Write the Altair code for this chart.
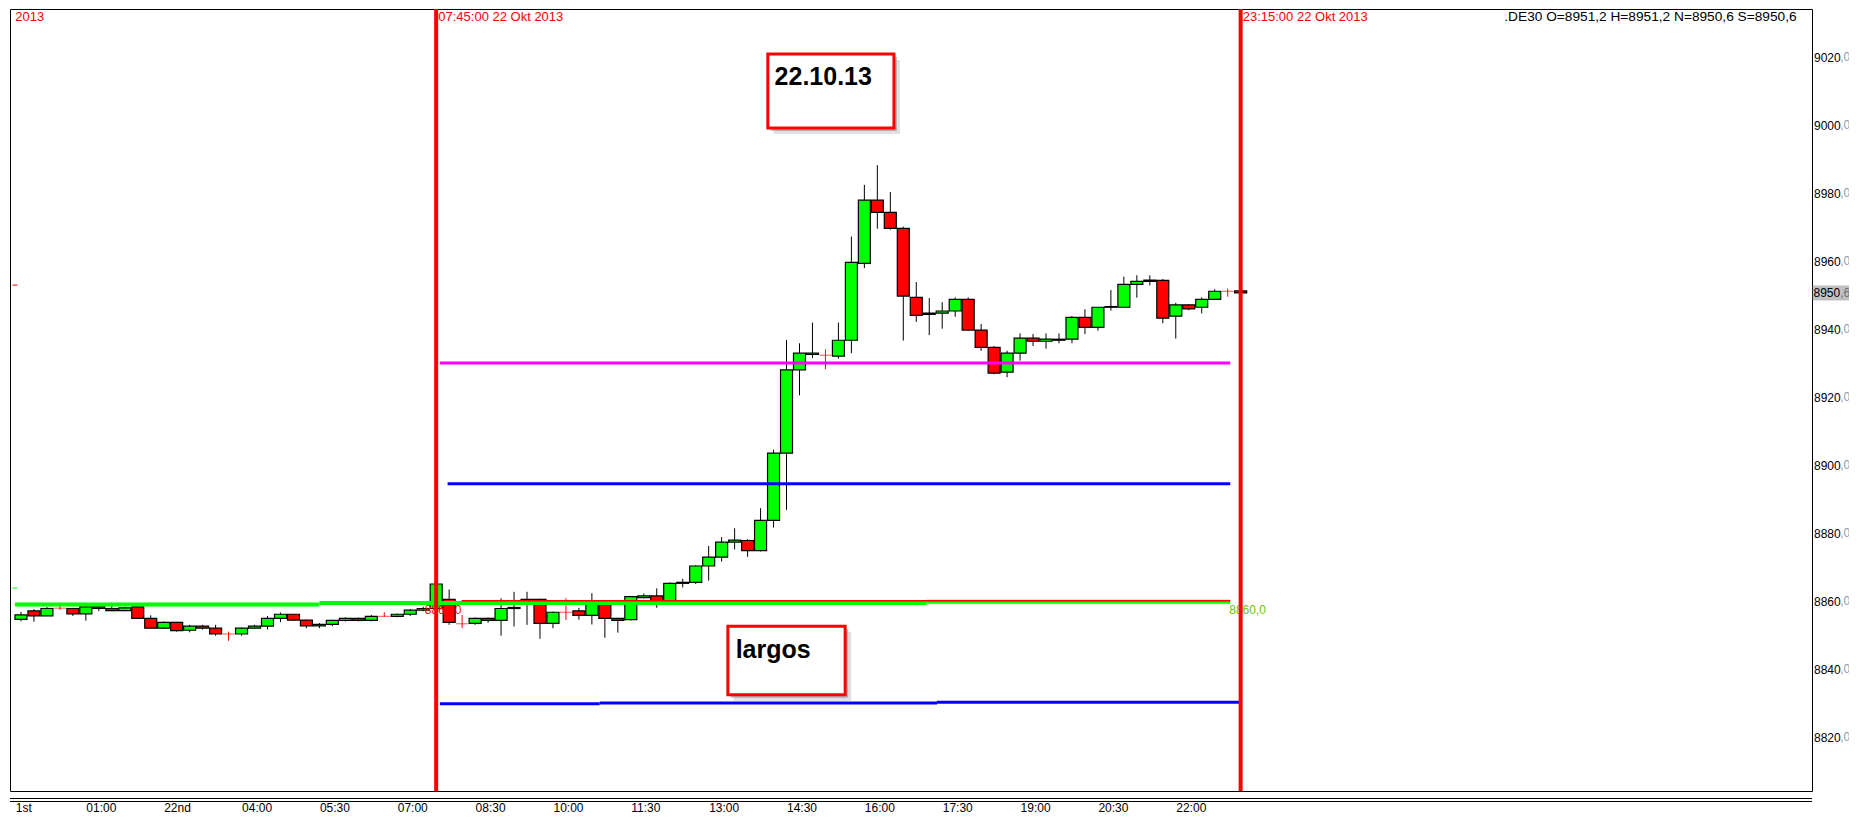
import altair as alt
import pandas as pd

# ---------------- data ----------------
HOURS = [-0.25, 0.0, 0.25, 0.5, 0.75, 1.0, 1.25, 1.5, 1.75, 2.0, 2.25, 2.5, 2.75, 3.0, 3.25, 3.5,
         3.75, 4.0, 4.25, 4.5, 4.75, 5.0, 5.25, 5.5, 5.75, 6.0, 6.25, 6.5, 6.75, 7.0, 7.25, 7.5,
         7.75, 8.0, 8.25, 8.5, 8.75, 9.0, 9.25, 9.5, 9.75, 10.0, 10.25, 10.5, 10.75, 11.0, 11.25, 11.5,
         11.75, 12.0, 12.25, 12.5, 12.75, 13.0, 13.25, 13.5, 13.75, 14.0, 14.25, 14.5, 14.75, 15.0, 15.25, 15.5,
         15.75, 16.0, 16.25, 16.5, 16.75, 17.0, 17.25, 17.5, 17.75, 18.0, 18.25, 18.5, 18.75, 19.0, 19.25, 19.5,
         19.75, 20.0, 20.25, 20.5, 20.75, 21.0, 21.25, 21.5, 21.75, 22.0, 22.25, 22.5, 22.75, 23.0, 23.25]

OPEN = [8854.6, 8857.1, 8855.6, 8857.9, 8857.8, 8856.2, 8858.3, 8857.8, 8857.2, 8858.3, 8854.9, 8852.0, 8853.7, 8851.4, 8852.6, 8852.0,
        8850.3, 8850.3, 8852.0, 8852.6, 8854.9, 8856.1, 8854.4, 8852.7, 8853.1, 8854.3, 8854.9, 8854.3, 8855.5, 8855.5, 8856.1, 8857.3,
        8857.8, 8860.5, 8853.3, 8853.4, 8854.9, 8854.3, 8857.8, 8860.1, 8860.5, 8853.4, 8856.7, 8857.1, 8855.8, 8859.5, 8854.9, 8854.5,
        8861.0, 8861.5, 8859.8, 8865.2, 8865.5, 8870.3, 8872.9, 8877.3, 8877.8, 8874.8, 8883.7, 8903.5, 8928.0, 8932.5, 8932.3, 8932.0,
        8936.7, 8959.3, 8977.9, 8974.3, 8969.6, 8949.3, 8944.7, 8944.7, 8945.3, 8948.7, 8939.7, 8934.6, 8927.3, 8932.9, 8937.3, 8936.4,
        8936.7, 8937.0, 8943.4, 8940.5, 8946.4, 8946.4, 8953.1, 8954.0, 8954.3, 8943.8, 8947.1, 8946.4, 8948.7, 8951.1, 8951.2]
HIGH = [8856.8, 8857.6, 8858.3, 8859.5, 8858.0, 8858.5, 8858.5, 8859.5, 8858.3, 8858.5, 8855.8, 8854.0, 8853.9, 8853.0, 8853.0, 8853.0,
        8851.0, 8852.2, 8853.0, 8855.6, 8856.6, 8856.2, 8854.5, 8853.5, 8854.5, 8855.2, 8855.1, 8855.9, 8856.7, 8856.3, 8857.6, 8858.3,
        8865.2, 8863.4, 8855.9, 8855.2, 8855.1, 8860.8, 8862.7, 8862.7, 8860.7, 8856.9, 8860.8, 8858.0, 8862.3, 8859.7, 8855.0, 8861.5,
        8862.2, 8863.7, 8865.5, 8866.5, 8870.5, 8876.2, 8878.8, 8881.4, 8878.2, 8887.3, 8904.5, 8936.8, 8935.8, 8941.9, 8934.0, 8941.9,
        8967.2, 8982.4, 8988.2, 8980.3, 8970.1, 8953.8, 8949.1, 8947.9, 8949.3, 8949.3, 8941.5, 8935.0, 8933.6, 8938.7, 8938.5, 8938.7,
        8938.7, 8943.8, 8945.8, 8946.4, 8951.5, 8955.4, 8955.8, 8955.8, 8954.7, 8947.7, 8947.3, 8949.3, 8951.7, 8951.9, 8951.2]
LOW = [8854.0, 8853.9, 8855.6, 8857.4, 8855.6, 8854.2, 8857.0, 8857.0, 8857.0, 8854.9, 8852.0, 8851.8, 8851.0, 8850.8, 8851.6, 8849.8,
       8848.3, 8849.8, 8851.9, 8851.6, 8853.8, 8854.2, 8852.0, 8852.0, 8852.6, 8854.0, 8854.0, 8854.0, 8855.4, 8855.2, 8855.6, 8857.0,
       8857.0, 8853.0, 8852.0, 8853.0, 8853.6, 8849.8, 8852.5, 8853.0, 8848.9, 8852.0, 8854.4, 8854.5, 8853.1, 8849.2, 8850.7, 8854.3,
       8860.8, 8858.0, 8859.5, 8864.0, 8865.0, 8866.0, 8871.6, 8875.2, 8873.0, 8874.6, 8881.6, 8886.8, 8920.5, 8931.4, 8928.2, 8931.3,
       8932.9, 8957.9, 8969.5, 8969.2, 8936.6, 8942.1, 8938.2, 8940.1, 8943.6, 8939.5, 8933.6, 8926.7, 8925.8, 8930.7, 8935.0, 8934.2,
       8935.8, 8935.8, 8938.5, 8939.5, 8945.4, 8946.4, 8949.2, 8952.8, 8941.7, 8937.2, 8945.5, 8944.6, 8948.5, 8949.5, 8950.6]
CLOSE = [8855.9, 8855.6, 8857.8, 8857.9, 8856.2, 8858.3, 8857.8, 8857.2, 8858.0, 8854.9, 8852.0, 8853.7, 8851.3, 8852.6, 8852.0, 8850.3,
         8850.3, 8852.0, 8852.6, 8854.9, 8856.1, 8854.4, 8852.7, 8853.1, 8854.3, 8854.9, 8854.3, 8855.5, 8855.5, 8856.1, 8857.3, 8857.8,
         8865.0, 8853.7, 8853.3, 8854.9, 8854.3, 8857.8, 8858.1, 8860.5, 8853.4, 8856.7, 8856.7, 8855.8, 8859.5, 8854.9, 8854.3, 8861.3,
         8861.5, 8859.8, 8865.2, 8865.5, 8870.3, 8872.9, 8877.3, 8877.9, 8874.8, 8883.7, 8903.5, 8928.0, 8932.9, 8932.9, 8932.3, 8936.7,
         8959.6, 8977.9, 8974.3, 8969.6, 8949.7, 8944.0, 8944.3, 8945.3, 8948.7, 8939.7, 8934.6, 8927.0, 8932.9, 8937.3, 8936.4, 8937.0,
         8937.0, 8943.4, 8940.5, 8946.4, 8946.6, 8953.1, 8954.0, 8954.4, 8943.2, 8947.1, 8945.9, 8948.7, 8951.1, 8951.1, 8950.6]

XTICK_VALUES = [-0.36, 1, 2.5, 4, 5.5, 7, 8.5, 10, 11.5, 13, 14.5, 16, 17.5, 19, 20.5, 22]
XTICK_LABELS = ['1st', '01:00', '22nd', '04:00', '05:30', '07:00', '08:30', '10:00', '11:30',
                '13:00', '14:30', '16:00', '17:30', '19:00', '20:30', '22:00']
YTICK_VALUES = [8820, 8840, 8860, 8880, 8900, 8920, 8940, 8960, 8980, 9000, 9020]

# horizontal level lines (segments)
LEVEL_START = [-0.365, 5.5, 17.2, 8.24, 7.82, 7.97, 7.82, 10.9, 17.4]
LEVEL_END = [5.5, 17.2, 23.05, 23.05, 23.05, 23.05, 10.9, 17.4, 23.22]
LEVEL_PRICE = [8859.0, 8859.4, 8859.8, 8860.1, 8930.0, 8894.5, 8829.8, 8830.0, 8830.2]
LEVEL_COLOR = ['#00ff00', '#00ff00', '#00ff00', '#ff0000', '#ff00ff', '#0000ff', '#0000ff', '#0000ff', '#0000ff']
LEVEL_WIDTH = [4, 4, 4, 1.5, 3, 3, 3, 3, 3]

VLINE_TIMES = [7.75, 23.25]

# small markers on the left edge of the price pane
EDGE_MARK_V = [8952.9, 8863.8]
EDGE_MARK_COLOR = ['#ff0000', '#00ff00']

TOP_TEXT = ['2013', '07:45:00 22 Okt 2013', '23:15:00 22 Okt 2013',
            '.DE30 O=8951,2 H=8951,2 N=8950,6 S=8950,6']
TOP_TEXT_T = [-0.36, 7.79, 23.29, 28.33]
TOP_TEXT_COLOR = ['#ff0000', '#ff0000', '#ff0000', '#000000']
TOP_TEXT_SIZE = [13, 13, 13, 13.7]
TOP_TEXT_V = 9031.8

LEVEL_LABEL_TEXT = ['8860,0', '8860,0']
LEVEL_LABEL_T = [7.53, 23.03]
LEVEL_LABEL_V = [8857.3, 8857.3]
LEVEL_LABEL_COLOR = ['#ff0000', '#66c800']

BOX_TEXT = ['22.10.13', 'largos']
BOX_T0 = [14.14, 13.37]
BOX_T1 = [16.57, 15.63]
BOX_V0 = [8999.1, 8832.4]
BOX_V1 = [9020.9, 8852.6]
BOX_TEXT_T = [14.27, 13.52]
BOX_TEXT_V = [9011.8, 8843.3]

LAST_PRICE = 8950.6

# ---------------- chart ----------------
W, H = 1802, 782
X_DOM = [-0.365, 34.162]
Y_DOM = [8804.12, 9034.12]
FONT = 'Liberation Sans'

xs = alt.Scale(domain=X_DOM, nice=False, zero=False)
ys = alt.Scale(domain=Y_DOM, nice=False, zero=False)

expr = "''"
for v, lab in zip(reversed(XTICK_VALUES), reversed(XTICK_LABELS)):
    expr = f"datum.value == {v} ? '{lab}' : ({expr})"

x_axis = alt.Axis(values=XTICK_VALUES, labelExpr=expr, labelAlign='left', labelBaseline='middle',
                  labelPadding=16.5, ticks=False, domain=False, grid=False,
                  labelFlush=False, labelOverlap=False,
                  labelFont=FONT, labelFontSize=12, labelColor='black', title=None)
y_axis = alt.Axis(values=YTICK_VALUES, format='d', orient='right', labelAlign='left',
                  labelBaseline='middle', labelPadding=1.5, ticks=False,
                  domain=False, grid=False, labelFont=FONT, labelFontSize=12,
                  labelColor='black', labelOverlap=False, labelFlush=False, title=None)


def xq(field):
    return alt.X(field, type='quantitative', scale=xs, axis=x_axis)


def yq(field):
    return alt.Y(field, type='quantitative', scale=ys, axis=y_axis)


df = pd.DataFrame({'t': HOURS, 'o': OPEN, 'h': HIGH, 'l': LOW, 'c': CLOSE})
df['kind'] = ['up' if c > o else ('down' if c < o else 'doji') for o, c in zip(df.o, df.c)]
candles = df[df.kind != 'doji']
dojis = df[df.kind == 'doji']

wicks = alt.Chart(candles).mark_rule(color='black', strokeWidth=1).encode(
    x=xq('t'), y=yq('l'), y2='h:Q')
bodies = alt.Chart(candles).mark_bar(size=12, stroke='black', strokeWidth=1.2).encode(
    x=xq('t'), y=yq('o'), y2='c:Q',
    color=alt.Color('kind:N', scale=alt.Scale(domain=['up', 'down'], range=['#00ff00', '#ff0000']), legend=None))
doji_wicks = alt.Chart(dojis).mark_rule(color='#ff0000', strokeWidth=1).encode(
    x=xq('t'), y=yq('l'), y2='h:Q')
doji_ticks = alt.Chart(dojis).mark_tick(color='#ff0000', orient='horizontal', size=12, thickness=1).encode(
    x=xq('t'), y=yq('o'))

lv = pd.DataFrame({'t0': LEVEL_START, 't1': LEVEL_END, 'v': LEVEL_PRICE, 'col': LEVEL_COLOR, 'w': LEVEL_WIDTH})
levels = alt.Chart(lv).mark_rule().encode(
    x=xq('t0'), x2='t1:Q', y=yq('v'),
    color=alt.Color('col:N', scale=None), strokeWidth=alt.StrokeWidth('w:Q', scale=None))

em = pd.DataFrame({'t': [X_DOM[0]] * len(EDGE_MARK_V), 'v': EDGE_MARK_V, 'col': EDGE_MARK_COLOR})
edge_marks = alt.Chart(em).mark_tick(orient='horizontal', size=5, thickness=1.5).encode(
    x=xq('t'), y=yq('v'), color=alt.Color('col:N', scale=None))

ll = pd.DataFrame({'t': LEVEL_LABEL_T, 'v': LEVEL_LABEL_V, 'txt': LEVEL_LABEL_TEXT, 'col': LEVEL_LABEL_COLOR})
level_labels = alt.Chart(ll).mark_text(font=FONT, fontSize=12, align='left', baseline='middle').encode(
    x=xq('t'), y=yq('v'), text='txt:N', color=alt.Color('col:N', scale=None))

vl = pd.DataFrame({'t': VLINE_TIMES})
vlines = alt.Chart(vl).mark_rule(color='#ff0000', strokeWidth=4).encode(x=xq('t'))

tt = pd.DataFrame({'t': TOP_TEXT_T, 'txt': TOP_TEXT, 'col': TOP_TEXT_COLOR, 'fs': TOP_TEXT_SIZE,
                   'v': [TOP_TEXT_V] * len(TOP_TEXT)})
top_texts = alt.Chart(tt).mark_text(font=FONT, align='left', baseline='middle').encode(
    x=xq('t'), y=yq('v'), text='txt:N', color=alt.Color('col:N', scale=None),
    size=alt.Size('fs:Q', scale=None))

bx = pd.DataFrame({'t0': BOX_T0, 't1': BOX_T1, 'v0': BOX_V0, 'v1': BOX_V1,
                   'tt': BOX_TEXT_T, 'tv': BOX_TEXT_V, 'txt': BOX_TEXT})
shadow2 = alt.Chart(bx).mark_rect(color='#bbbbbb', opacity=0.45, xOffset=6, x2Offset=6, yOffset=6, y2Offset=6).encode(
    x=xq('t0'), x2='t1:Q', y=yq('v0'), y2='v1:Q')
shadow1 = alt.Chart(bx).mark_rect(color='#888888', opacity=0.55, xOffset=3, x2Offset=3, yOffset=3, y2Offset=3).encode(
    x=xq('t0'), x2='t1:Q', y=yq('v0'), y2='v1:Q')
boxes = alt.Chart(bx).mark_rect(fill='white', stroke='#ff0000', strokeWidth=3).encode(
    x=xq('t0'), x2='t1:Q', y=yq('v0'), y2='v1:Q')
box_text = alt.Chart(bx).mark_text(font=FONT, fontSize=25, fontWeight='bold', align='left',
                                   baseline='alphabetic', color='black').encode(
    x=xq('tt'), y=yq('tv'), text='txt:N')

# price axis decimals and last-price highlight
yd = pd.DataFrame({'v': YTICK_VALUES, 'txt': [',0'] * len(YTICK_VALUES)})
y_dec = alt.Chart(yd).mark_text(font=FONT, fontSize=12, align='left', baseline='middle', color='#8a9ab0').encode(
    x=alt.value(W + 28.2), y=yq('v'), text='txt:N')
lp = pd.DataFrame({'v': [LAST_PRICE], 'lo': [LAST_PRICE - 2.2], 'hi': [LAST_PRICE + 2.2],
                   'a': [str(int(LAST_PRICE))], 'b': [',' + str(round(LAST_PRICE * 10) % 10)]})
lp_bg = alt.Chart(lp).mark_rect(color='#c0c0c0').encode(
    x=alt.value(W + 0.8), x2=alt.value(W + 40), y=yq('lo'), y2='hi:Q')
lp_a = alt.Chart(lp).mark_text(font=FONT, fontSize=12, align='left', baseline='middle', color='black').encode(
    x=alt.value(W + 1.5), y=yq('v'), text='a:N')
lp_b = alt.Chart(lp).mark_text(font=FONT, fontSize=12, align='left', baseline='middle', color='#707070').encode(
    x=alt.value(W + 28.2), y=yq('v'), text='b:N')

# double separator under the plot frame
sep_a = alt.Chart(pd.DataFrame({'k': [0]})).mark_rule(color='black', strokeWidth=1.2).encode(
    x=alt.value(0), x2=alt.value(W), y=alt.value(H + 7.5))
sep_b = alt.Chart(pd.DataFrame({'k': [1]})).mark_rule(color='black', strokeWidth=1.2).encode(
    x=alt.value(0), x2=alt.value(W), y=alt.value(H + 10.5))

chart = alt.layer(
    wicks, bodies, doji_wicks, doji_ticks, levels, edge_marks, level_labels, vlines, top_texts,
    shadow2, shadow1, boxes, box_text, y_dec, lp_bg, lp_a, lp_b, sep_a, sep_b
).properties(
    width=W, height=H,
    autosize=alt.AutoSizeParams(type='none'),
    padding={'left': 2, 'top': 1, 'right': 37, 'bottom': 25},
    background='white'
).configure_view(stroke='black', strokeWidth=1)

chart.save('out.html', embed_options={'renderer': 'svg', 'actions': False})
